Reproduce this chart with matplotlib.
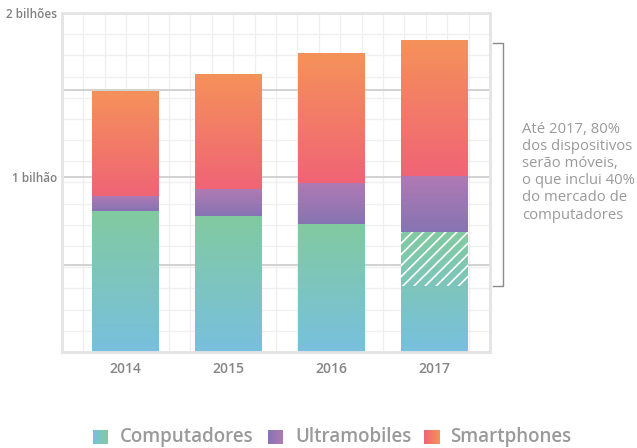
import matplotlib.pyplot as plt
import numpy as np
from matplotlib.colors import LinearSegmentedColormap

plt.rcParams['font.family'] = ['Open Sans', 'DejaVu Sans']
plt.rcParams['hatch.linewidth'] = 1.2

# dados (bilhoes de unidades)
years = ['2014', '2015', '2016', '2017']
computadores = [0.806, 0.779, 0.731, 0.684]
ultramobiles = [0.087, 0.152, 0.236, 0.323]
smartphones = [0.600, 0.659, 0.743, 0.776]
# parte dos computadores de 2017 que ja e movel (tracejada)
pc_moveis_2017 = 0.305

series = ['Computadores', 'Ultramobiles', 'Smartphones']
# cor de baixo -> cor de cima de cada segmento
grad = {
    'Computadores': ('#78C0DE', '#82CAA0'),
    'Ultramobiles': ('#8674B2', '#B07AB4'),
    'Smartphones': ('#F06476', '#F5925A'),
}
nota = 'Até 2017, 80%\ndos dispositivos\nserão móveis,\no que inclui 40%\ndo mercado de\ncomputadores'

W, H = 637, 448
fig = plt.figure(figsize=(W/100, H/100), dpi=100)
ax = fig.add_axes([62/W, 96/H, 428/W, 339/H])

x = np.arange(len(years))
xlo, xhi = -0.617, 3.539
ymax = 1.94
width = 0.65

#grade clara (quadradinhos) e linhas mais escuras a cada meio bilhao
for gx in np.linspace(xlo, xhi, 21)[1:-1]:
    ax.axvline(gx, color='#efefef', lw=0.9, zorder=0)
for gy in np.linspace(0, ymax, 17)[1:-1]:
    ax.axhline(gy, color='#efefef', lw=0.9, zorder=0)
for gy in [0.5, 1.0, 1.5]:
    ax.axhline(gy, xmin=0.007, color='#cfcfcf', lw=1.3, zorder=1)

#desenha uma barra com degrade vertical
def gradient_bars(ax, xs, bottoms, heights, c0, c1):
    cmap = LinearSegmentedColormap.from_list('g', [c0, c1])
    bars = ax.bar(xs, heights, width, bottom=bottoms, color='none', lw=0, zorder=2)
    for b in bars:
        x0, y0 = b.get_x(), b.get_y()
        im = ax.imshow(np.linspace(0, 1, 256).reshape(-1, 1), cmap=cmap, origin='lower',
                       aspect='auto', interpolation='bilinear', zorder=2,
                       extent=[x0, x0 + b.get_width(), y0, y0 + b.get_height()])
        im.set_clip_path(b)

bottom = np.zeros(len(years))
for name, vals in zip(series, [computadores, ultramobiles, smartphones]):
    gradient_bars(ax, x, bottom, vals, *grad[name])
    bottom = bottom + np.array(vals)

# tracejado branco na parte movel dos computadores de 2017
ax.bar(x[3], pc_moveis_2017, width, bottom=computadores[3] - pc_moveis_2017,
       fill=False, hatch='///', edgecolor='white', lw=0, zorder=3)

# colchete e nota
bx0, bx1 = 3.568, 3.665
ylo = computadores[3] - pc_moveis_2017
yhi = bottom[3] - 0.017
ax.plot([bx0, bx1, bx1, bx0], [yhi, yhi, ylo, ylo], color='#8a8a8a', lw=1,
        clip_on=False, zorder=3)
ax.text(3.85, 1.03, nota, ha='left', va='center', fontsize=10.7, color='#9a9a9a',
        linespacing=1.2, clip_on=False)

ax.set_xlim(xlo, xhi)
ax.set_ylim(0, ymax)
ax.set_xticks(x)
ax.set_xticklabels(years, fontsize=10, fontweight='semibold', color='#858585')
ax.set_yticks([1, ymax])
ax.set_yticklabels(['1 bilhão', '2 bilhões'], fontsize=8.5, fontweight='semibold', color='#808080')
ax.tick_params(axis='x', length=0, pad=7)
ax.tick_params(axis='y', length=0, pad=3.5)
for s in ax.spines.values():
    s.set_color('#e4e4e4')
    s.set_linewidth(2)

#legenda desenhada a mao, com quadradinhos em degrade horizontal
sq_x = [93, 268, 424]
tx_x = [120, 295, 450]
ly = 437
for name, sx, tx in zip(series, sq_x, tx_x):
    lax = fig.add_axes([sx/W, (H - ly - 7.5)/H, 15/W, 15/H])
    cmap = LinearSegmentedColormap.from_list('l', list(grad[name]))
    lax.imshow(np.linspace(0, 1, 64).reshape(1, -1), cmap=cmap, aspect='auto')
    lax.axis('off')
    fig.text(tx/W, (H - ly)/H, name, ha='left', va='center', fontsize=13.5,
             fontweight='semibold', color='#9a9a9a')

fig.savefig('out.png', dpi=100)
